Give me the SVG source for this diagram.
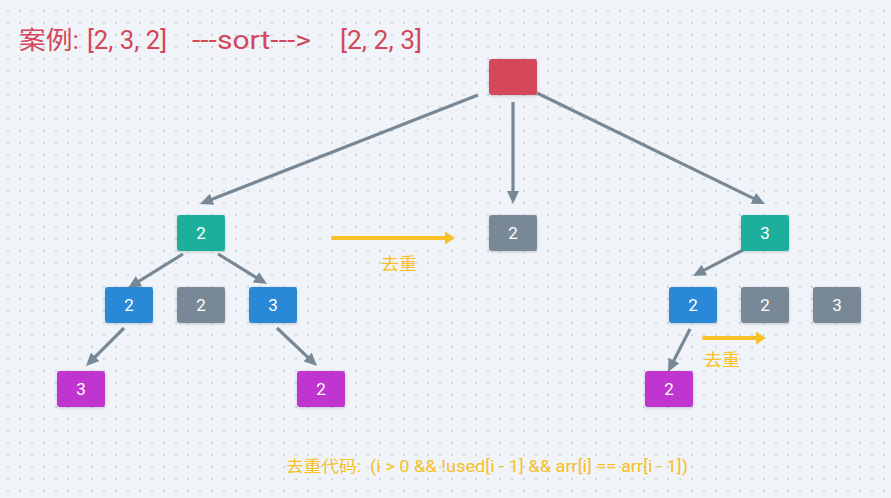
<svg xmlns="http://www.w3.org/2000/svg" width="891" height="498" viewBox="0 0 891 498">
<defs>
<pattern id="dots" x="0" y="0" width="12" height="12" patternUnits="userSpaceOnUse">
<circle cx="8" cy="11" r="1" fill="#c6ced8"/>
</pattern>
<filter id="sh" x="-20%" y="-20%" width="140%" height="150%">
<feDropShadow dx="0" dy="1" stdDeviation="1.5" flood-color="#000" flood-opacity="0.18"/>
</filter>
<marker id="ag" viewBox="0 0 13 12" refX="7" refY="6" markerWidth="13" markerHeight="12" markerUnits="userSpaceOnUse" orient="auto">
<path d="M0,0 L13,6 L0,12 z" fill="#788896"/>
</marker>
<marker id="ay" viewBox="0 0 10 13" refX="5" refY="6.5" markerWidth="10" markerHeight="13" markerUnits="userSpaceOnUse" orient="auto">
<path d="M0,0 L10,6.5 L0,13 z" fill="#f6c026"/>
</marker>
<style>
.n rect{filter:url(#sh)}
.n text{font-family:Roboto,"Noto Sans",sans-serif;font-size:17px;fill:#fff;text-anchor:middle}
.red{fill:#d5465a}.grn{fill:#1aaf9c}.blu{fill:#2b88d8}.gry{fill:#788896}.pur{fill:#c034d0}
.c line{stroke:#788896;stroke-width:3.2;marker-end:url(#ag)}
.y line{stroke:#f6c026;stroke-width:4;stroke-linecap:round;marker-end:url(#ay)}
.lbl{font-family:Roboto,"Noto Sans CJK SC",sans-serif;fill:#f6c026}
</style>
</defs>
<rect width="891" height="498" fill="#f0f4f8"/>
<rect width="891" height="498" fill="url(#dots)"/>

<text id="title" font-family="Roboto,'Noto Sans CJK SC',sans-serif" font-size="25" fill="#d5465a" y="49"><tspan x="19" textLength="60" lengthAdjust="spacingAndGlyphs">案例:</tspan><tspan x="87" textLength="80" lengthAdjust="spacingAndGlyphs">[2, 3, 2]</tspan><tspan x="192" textLength="119" lengthAdjust="spacingAndGlyphs">---sort---&gt;</tspan><tspan x="340" textLength="82" lengthAdjust="spacingAndGlyphs">[2, 2, 3]</tspan></text>

<g id="connectors" class="c">
<line x1="478" y1="95" x2="205.6" y2="201.8"/>
<line x1="513" y1="102" x2="513" y2="198"/>
<line x1="537" y1="93" x2="759.6" y2="201.4"/>
<line x1="183" y1="254" x2="133.1" y2="284.8"/>
<line x1="218" y1="254" x2="261.9" y2="280.9"/>
<line x1="124" y1="328" x2="90.2" y2="361.8"/>
<line x1="277" y1="328" x2="312.7" y2="361.9"/>
<line x1="743" y1="250" x2="698.3" y2="273.2"/>
<line x1="690" y1="329" x2="670.7" y2="366.7"/>
</g>

<g id="dedup" class="y">
<line x1="333" y1="238" x2="450" y2="238"/>
<line x1="704" y1="338" x2="761" y2="338"/>
</g>
<text id="dedup-label-1" class="lbl" x="381" y="270" font-size="17" textLength="36" lengthAdjust="spacingAndGlyphs">去重</text>
<text id="dedup-label-2" class="lbl" x="704" y="366" font-size="17" textLength="36" lengthAdjust="spacingAndGlyphs">去重</text>

<g id="root" class="n"><rect class="red" x="489" y="59" width="48" height="36" rx="3"/></g>
<g id="n1a" class="n"><rect class="grn" x="177" y="215" width="48" height="36" rx="3"/><text x="201" y="239">2</text></g>
<g id="n1b" class="n"><rect class="gry" x="489" y="215" width="48" height="36" rx="3"/><text x="513" y="239">2</text></g>
<g id="n1c" class="n"><rect class="grn" x="741" y="215" width="48" height="36" rx="3"/><text x="765" y="239">3</text></g>
<g id="n2a" class="n"><rect class="blu" x="105" y="287" width="48" height="36" rx="3"/><text x="129" y="311">2</text></g>
<g id="n2b" class="n"><rect class="gry" x="177" y="287" width="48" height="36" rx="3"/><text x="201" y="311">2</text></g>
<g id="n2c" class="n"><rect class="blu" x="249" y="287" width="48" height="36" rx="3"/><text x="273" y="311">3</text></g>
<g id="n2d" class="n"><rect class="blu" x="669" y="287" width="48" height="36" rx="3"/><text x="693" y="311">2</text></g>
<g id="n2e" class="n"><rect class="gry" x="741" y="287" width="48" height="36" rx="3"/><text x="765" y="311">2</text></g>
<g id="n2f" class="n"><rect class="gry" x="813" y="287" width="48" height="36" rx="3"/><text x="837" y="311">3</text></g>
<g id="n3a" class="n"><rect class="pur" x="57" y="371" width="48" height="36" rx="3"/><text x="81" y="395">3</text></g>
<g id="n3b" class="n"><rect class="pur" x="297" y="371" width="48" height="36" rx="3"/><text x="321" y="395">2</text></g>
<g id="n3c" class="n"><rect class="pur" x="645" y="371" width="48" height="36" rx="3"/><text x="669" y="395">2</text></g>

<text id="code" class="lbl" y="472" font-size="16"><tspan x="286" textLength="75" lengthAdjust="spacingAndGlyphs">去重代码:</tspan><tspan x="370" textLength="318" lengthAdjust="spacingAndGlyphs">(i &gt; 0 &amp;&amp; !used[i - 1] &amp;&amp; arr[i] == arr[i - 1])</tspan></text>
</svg>
